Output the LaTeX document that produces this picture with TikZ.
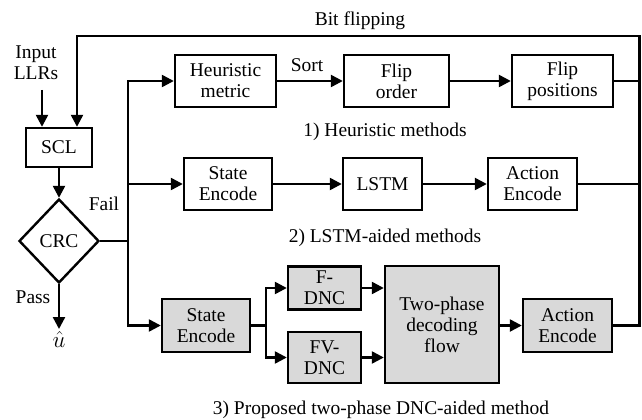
\documentclass[tikz,border=0pt]{standalone}
\usepackage{fontspec}
\setmainfont{Liberation Serif}
\usetikzlibrary{arrows.meta,shapes.geometric}
\begin{document}
\begin{tikzpicture}[x=0.75pt,y=-0.75pt,
  font=\fontsize{14.6}{15.8}\selectfont,
  line width=1.8pt,
  arr/.style={-{Triangle[length=9pt,width=9pt]}},
  box/.style={draw,rectangle,align=center,inner sep=1pt},
  gbox/.style={box,fill=gray!30},
  lbl/.style={inner sep=0pt,align=center}]
\useasboundingbox (0,0) rectangle (642,420);
% nodes
\node[lbl] (llr) at (36,63) {Input\\LLRs};
\node[box,minimum width=49.5pt,minimum height=29.25pt] (scl) at (59,147.5) {SCL};
\node[draw,diamond,inner sep=0pt,minimum width=60pt,minimum height=63pt] (crc) at (59,241) {CRC};
\node[lbl] (fail) at (104,204) {Fail};
\node[lbl] (pass) at (33,297) {Pass};
\node[inner sep=1pt,anchor=north,font=\fontsize{19}{20}\selectfont] (uhat) at (59,329) {$\hat{u}$};

\node[box,minimum width=75.75pt,minimum height=39pt] (hm) at (225.5,81) {Heuristic\\metric};
\node[box,minimum width=78.75pt,minimum height=39pt] (fo) at (396.5,81) {Flip\\order};
\node[box,minimum width=75.75pt,minimum height=39pt] (fp) at (562.5,81) {Flip\\positions};
\node[lbl] (sort) at (307,65) {Sort};
\node[lbl] (h1) at (385,132) {1) Heuristic methods};

\node[box,minimum width=66pt,minimum height=39pt] (se) at (228,184) {State\\Encode};
\node[box,minimum width=59.25pt,minimum height=39pt] (lstm) at (382.5,184) {LSTM};
\node[box,minimum width=66.75pt,minimum height=39pt] (ae) at (532.5,184) {Action\\Encode};
\node[lbl] (h2) at (385,238) {2) LSTM-aided methods};

\node[gbox,minimum width=66pt,minimum height=39.75pt] (se2) at (206,325.5) {State\\Encode};
\node[gbox,minimum width=54.75pt,minimum height=32.25pt] (fd) at (324.5,288) {F-\\DNC};
\node[gbox,minimum width=54.75pt,minimum height=38.25pt] (fvd) at (324.5,357.5) {FV-\\DNC};
\node[gbox,minimum width=85.5pt,minimum height=87.75pt] (tp) at (442,324.5) {Two-phase\\decoding\\flow};
\node[gbox,minimum width=66.75pt,minimum height=39.75pt] (ae2) at (567.5,325.5) {Action\\Encode};
\node[lbl] (h3) at (381,410) {3) Proposed two-phase DNC-aided method};
\node[lbl] (bf) at (360,21) {Bit flipping};

% coordinates
\coordinate (rtop) at (639.5,36);
\coordinate (ltop) at (77,36);
\coordinate (inp) at (42,90);
\coordinate (sp) at (128,241);
\coordinate (sp2) at (266,325.5);

% connectors
\draw[arr] (inp) -- (inp |- scl.north);
\draw[arr] (ae2.east) -| (rtop) -- (ltop) -- (ltop |- scl.north);
\draw (fp.east) -- (fp.east -| rtop);
\draw (ae.east) -- (ae.east -| rtop);
\draw[arr] (scl) -- (crc);
\draw[arr] (crc.south) -- (uhat.north);
\draw (crc.east) -- (sp);
\draw[arr] (sp) |- (hm.west);
\draw[arr] (sp) |- (se2.west);
\draw[arr] (sp |- se.west) -- (se.west);
\draw[arr] (hm) -- (fo);
\draw[arr] (fo) -- (fp);
\draw[arr] (se) -- (lstm);
\draw[arr] (lstm) -- (ae);
\draw (se2.east) -- (sp2);
\draw[arr] (sp2) |- (fd.west);
\draw[arr] (sp2) |- (fvd.west);
\draw[arr] (fd.east) -- (fd.east -| tp.west);
\draw[arr] (fvd.east) -- (fvd.east -| tp.west);
\draw[arr] (tp.east |- ae2.west) -- (ae2.west);
\end{tikzpicture}
\end{document}
